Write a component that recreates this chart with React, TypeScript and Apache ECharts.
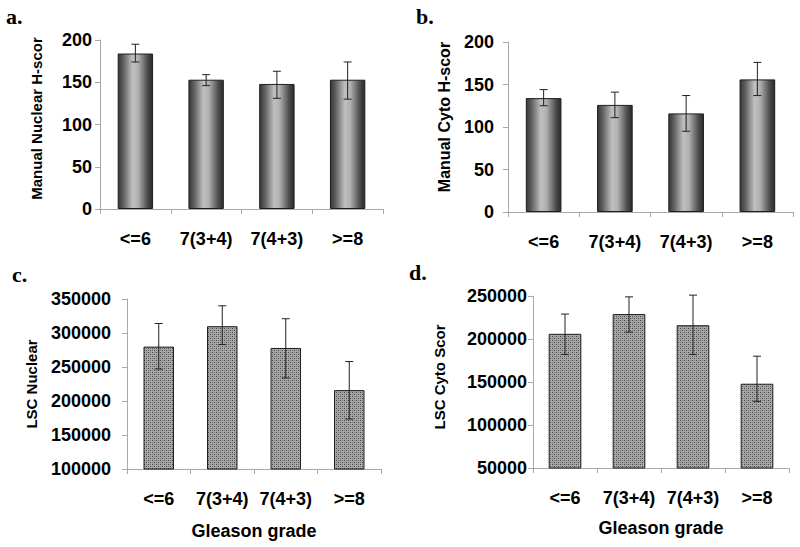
import React, { useEffect, useRef } from 'react';
import * as echarts from 'echarts';

const categories = ['<=6', '7(3+4)', '7(4+3)', '>=8'];

const manualNuclear = [184, 153, 148, 153];
const manualNuclearLow = [174, 146, 131, 130];
const manualNuclearHigh = [195, 159, 163, 174];

const manualCyto = [134, 126, 116, 156];
const manualCytoLow = [125, 111, 95, 137];
const manualCytoHigh = [144, 141, 137, 176];

const lscNuclear = [280000, 310000, 278000, 216000];
const lscNuclearLow = [247000, 283000, 234000, 173500];
const lscNuclearHigh = [314000, 340000, 321000, 258000];

const lscCyto = [206000, 229000, 216000, 148000];
const lscCytoLow = [182000, 208000, 182000, 127500];
const lscCytoHigh = [229000, 249000, 251000, 180000];

const panelLetters = ['a.', 'b.', 'c.', 'd.'];
const yNames = ['Manual Nuclear H-score', 'Manual Cyto H-score', 'LSC Nuclear', 'LSC Cyto Score'];
const yMins = [0, 0, 100000, 50000];
const yMaxs = [200, 200, 350000, 250000];
const yIntervals = [50, 50, 50000, 50000];
const xName = 'Gleason grade';

const FONT = 'Arial, "Liberation Sans", sans-serif';

export default function App() {
  const ref = useRef<HTMLDivElement>(null);
  useEffect(() => {
    if (!ref.current) return;
    const chart = echarts.init(ref.current, null, { renderer: 'svg' });

    const cv = document.createElement('canvas');
    cv.width = 4;
    cv.height = 4;
    const ctx = cv.getContext('2d')!;
    ctx.fillStyle = '#a8a8a8';
    ctx.fillRect(0, 0, 4, 4);
    ctx.fillStyle = '#444444';
    ctx.fillRect(0, 0, 1, 1);
    ctx.fillRect(2, 2, 1, 1);
    ctx.fillStyle = '#787878';
    ctx.fillRect(2, 0, 1, 1);
    ctx.fillRect(0, 2, 1, 1);
    const patternUrl = cv.toDataURL();
    const dotted = { image: patternUrl, repeat: 'repeat', imageWidth: 4, imageHeight: 4 } as any;

    const gradient = new echarts.graphic.LinearGradient(0, 0, 1, 0, [
      { offset: 0, color: '#363636' },
      { offset: 0.15, color: '#606060' },
      { offset: 0.42, color: '#c0c0c0' },
      { offset: 0.58, color: '#b0b0b0' },
      { offset: 0.85, color: '#4e4e4e' },
      { offset: 1, color: '#2a2a2a' },
    ]);

    const grids = [
      { left: 100, top: 40, width: 283, height: 169 },
      { left: 508, top: 42, width: 285, height: 170 },
      { left: 127, top: 299, width: 254, height: 170 },
      { left: 533, top: 296, width: 256, height: 172 },
    ];
    const labelMargins = [8, 14, 16, 6];
    const nameGaps = [56, 56, 88, 86];
    const nameSizes = [15, 16, 15, 15];
    const truncWidths = [169, 157, 200, 111];
    const namePads = [12, 20, 0, 10];
    const titlePos = [
      { left: 6, top: 5 },
      { left: 416, top: 5 },
      { left: 12, top: 263 },
      { left: 409, top: 261 },
    ];
    const means = [manualNuclear, manualCyto, lscNuclear, lscCyto];
    const lows = [manualNuclearLow, manualCytoLow, lscNuclearLow, lscCytoLow];
    const highs = [manualNuclearHigh, manualCytoHigh, lscNuclearHigh, lscCytoHigh];
    const barWidths = ['50%', '50%', '48%', '51%'];

    const axisLineColor = '#a8a8a8';

    const option: any = {
      animation: false,
      backgroundColor: '#ffffff',
      title: panelLetters.map((t, i) => ({
        text: t,
        left: titlePos[i].left,
        top: titlePos[i].top,
        padding: 0,
        textStyle: { fontFamily: '"Liberation Serif", "Times New Roman", serif', fontWeight: 'bold', fontSize: 22, color: '#000' },
      })),
      grid: grids.map((g) => ({ ...g, containLabel: false })),
      xAxis: grids.map((_, i) => ({
        type: 'category',
        gridIndex: i,
        data: categories,
        boundaryGap: true,
        name: i >= 2 ? xName : '',
        nameLocation: 'middle',
        nameGap: i === 2 ? 53 : 51,
        nameTextStyle: { fontFamily: FONT, fontWeight: 'bold', fontSize: 18, color: '#000', verticalAlign: 'top' },
        axisLine: { show: true, lineStyle: { color: axisLineColor, width: 1 } },
        axisTick: { show: true, length: 5, alignWithLabel: false, lineStyle: { color: axisLineColor } },
        axisLabel: { interval: 0, margin: 21, fontFamily: FONT, fontWeight: 'bold', fontSize: 18, color: '#000' },
        splitLine: { show: false },
      })),
      yAxis: grids.map((_, i) => ({
        type: 'value',
        gridIndex: i,
        min: yMins[i],
        max: yMaxs[i],
        interval: yIntervals[i],
        name: yNames[i],
        nameLocation: 'middle',
        nameGap: nameGaps[i],
        nameRotate: 90,
        nameTruncate: { maxWidth: truncWidths[i], ellipsis: '' },
        nameTextStyle: {
          fontFamily: FONT,
          fontWeight: 'bold',
          fontSize: nameSizes[i],
          color: '#000',
          padding: [0, 0, 0, namePads[i]],
        },
        axisLine: { show: true, lineStyle: { color: axisLineColor, width: 1 } },
        axisTick: { show: true, length: 5, lineStyle: { color: axisLineColor } },
        axisLabel: {
          margin: labelMargins[i],
          fontFamily: FONT,
          fontWeight: 'bold',
          fontSize: 18,
          color: '#000',
          formatter: (v: number) => String(v),
        },
        splitLine: { show: false },
      })),
      series: [
        ...means.map((m, i) => ({
          type: 'bar',
          xAxisIndex: i,
          yAxisIndex: i,
          data: m,
          barWidth: barWidths[i],
          z: 2,
          itemStyle: {
            color: i < 2 ? gradient : dotted,
            borderColor: '#1e1e1e',
            borderWidth: 1,
          },
        })),
        ...means.map((m, i) => ({
          type: 'custom',
          xAxisIndex: i,
          yAxisIndex: i,
          z: 5,
          data: m.map((_, k) => [k, lows[i][k], highs[i][k]]),
          encode: { x: 0, y: [1, 2] },
          renderItem: (params: any, api: any) => {
            const x = api.value(0);
            const lo = api.coord([x, api.value(1)]);
            const hi = api.coord([x, api.value(2)]);
            const w = 4;
            const st = { stroke: '#222', lineWidth: 1 };
            return {
              type: 'group',
              children: [
                { type: 'line', shape: { x1: hi[0], y1: hi[1], x2: lo[0], y2: lo[1] }, style: st },
                { type: 'line', shape: { x1: hi[0] - w, y1: hi[1], x2: hi[0] + w, y2: hi[1] }, style: st },
                { type: 'line', shape: { x1: lo[0] - w, y1: lo[1], x2: lo[0] + w, y2: lo[1] }, style: st },
              ],
            };
          },
        })),
      ],
    };

    chart.setOption(option);
    return () => chart.dispose();
  }, []);

  return (
    <div
      ref={ref}
      style={{ position: 'fixed', left: 0, top: 0, width: 800, height: 547, background: '#fff' }}
    />
  );
}
